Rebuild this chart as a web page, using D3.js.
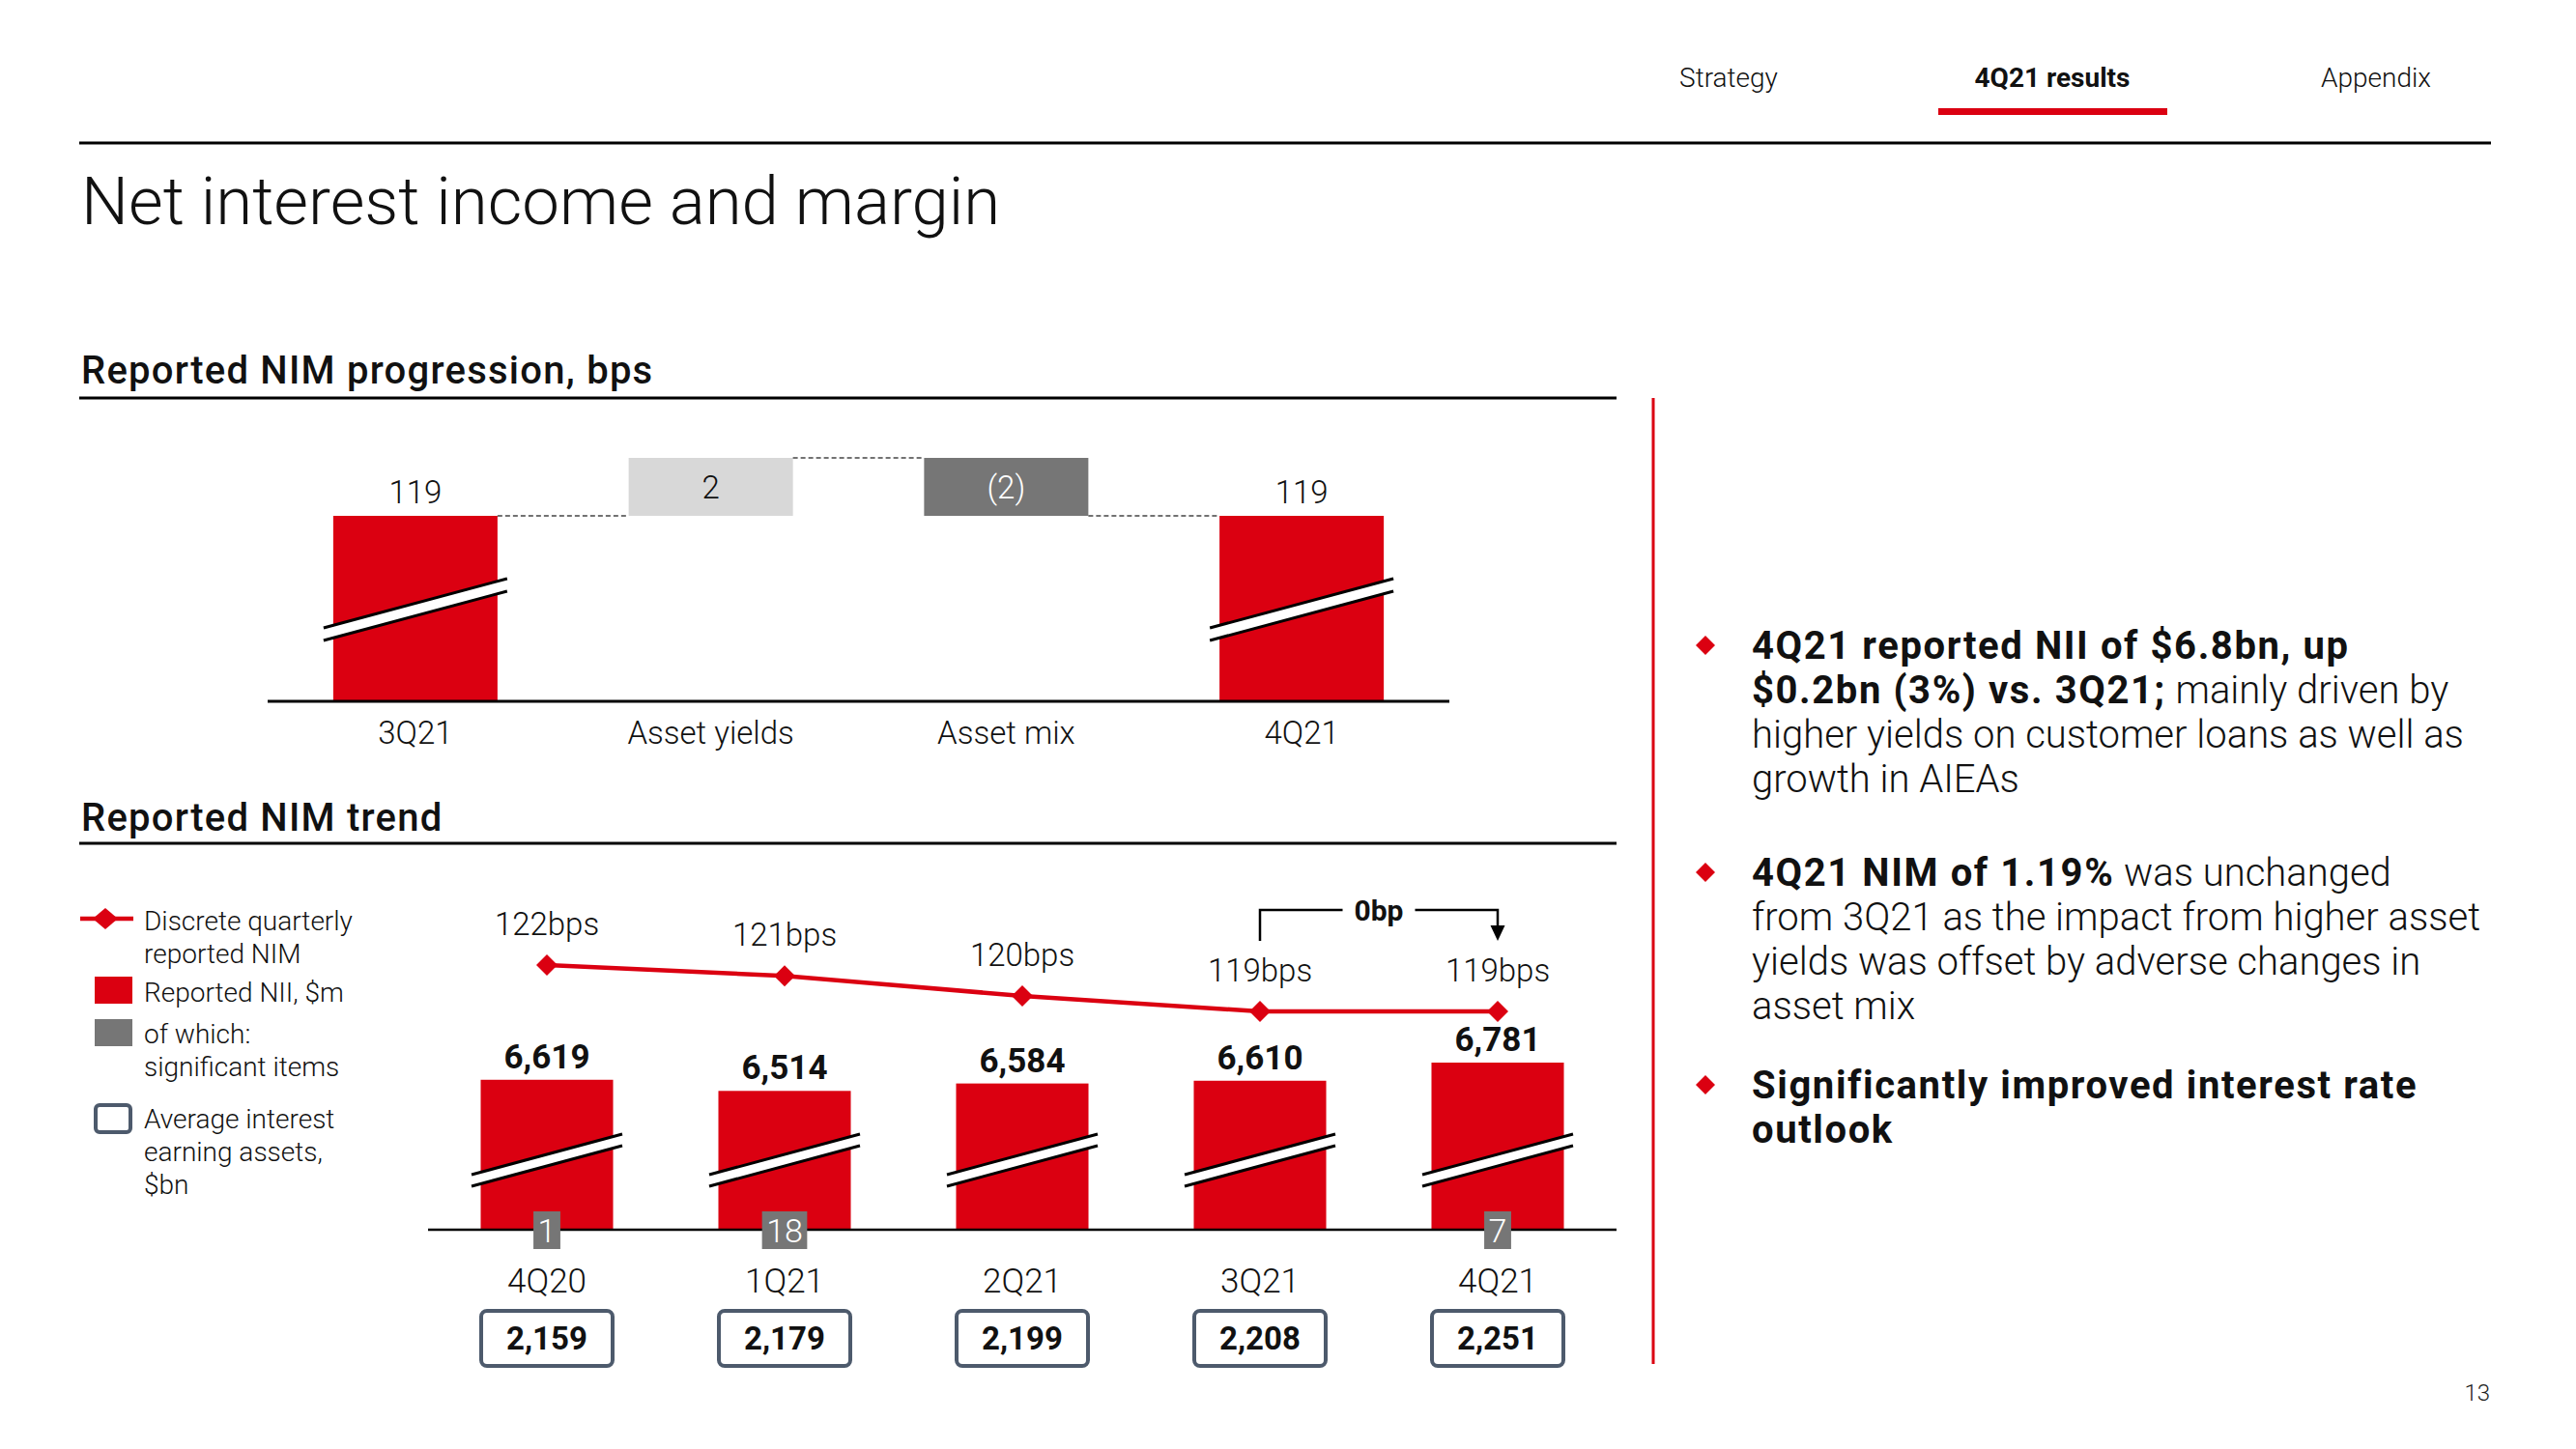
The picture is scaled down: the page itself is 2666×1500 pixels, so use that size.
<!DOCTYPE html>
<html><head><meta charset="utf-8">
<script src="https://cdn.jsdelivr.net/npm/d3@7"></script>
<style>
html,body{margin:0;padding:0;background:#fff;}
svg{display:block;font-family:Roboto,"Noto Sans",sans-serif;}
</style></head><body>
<svg id="chart" width="2666" height="1500"></svg>
<script>
const RED = "#db0011", DARKGREY = "#767676", LIGHTGREY = "#d8d8d8", BOXSTROKE = "#4d5a6c", INK = "#000";

// ---------- header ----------
const navItems = ["Strategy", "4Q21 results", "Appendix"];
const navActive = "4Q21 results";
const pageTitle = "Net interest income and margin";
const pageNumber = "13";
const section1Title = "Reported NIM progression, bps";
const section2Title = "Reported NIM trend";

// ---------- waterfall ----------
const wfCategories = ["3Q21", "Asset yields", "Asset mix", "4Q21"];
const wfValues = [119, 2, -2, 119];
const wfTypes = ["total", "delta", "delta", "total"];
const wfLabels = ["119", "2", "(2)", "119"];

// ---------- trend ----------
const quarters = ["4Q20", "1Q21", "2Q21", "3Q21", "4Q21"];
const niiValues = [6619, 6514, 6584, 6610, 6781];
const sigItems = [1, 18, null, null, 7];
const nimValues = [122, 121.3, 120, 119, 119];
const nimLabels = ["122bps", "121bps", "120bps", "119bps", "119bps"];
const aieaValues = [2159, 2179, 2199, 2208, 2251];
const nimChangeLabel = "0bp";

// ---------- legend ----------
const legendLabels = [
  ["Discrete quarterly", "reported NIM"],
  ["Reported NII, $m"],
  ["of which:", "significant items"],
  ["Average interest", "earning assets,", "$bn"]
];

// ---------- bullets ----------
const bullets = [
  [[["b", "4Q21 reported NII of $6.8bn, up"]],
   [["b", "$0.2bn (3%) vs. 3Q21;"], ["l", " mainly driven by"]],
   [["l", "higher yields on customer loans as well as"]],
   [["l", "growth in AIEAs"]]],
  [[["b", "4Q21 NIM of 1.19%"], ["l", " was unchanged"]],
   [["l", "from 3Q21 as the impact from higher asset"]],
   [["l", "yields was offset by adverse changes in"]],
   [["l", "asset mix"]]],
  [[["b", "Significantly improved interest rate"]],
   [["b", "outlook"]]]
];

const fmt = d3.format(",");
const svg = d3.select("#chart");

// ================= HEADER =================
const navX = d3.scalePoint().domain(navItems).range([1789, 2459]);
svg.append("g").selectAll("text").data(navItems).join("text")
  .attr("x", d => navX(d)).attr("y", 90)
  .attr("text-anchor", "middle")
  .attr("font-size", 28)
  .attr("font-weight", d => d === navActive ? 700 : 300)
  .attr("fill", "#111")
  .text(d => d);
svg.append("rect").attr("x", navX(navActive) - 118).attr("y", 112).attr("width", 237).attr("height", 7).attr("fill", RED);
svg.append("line").attr("x1", 82).attr("x2", 2578).attr("y1", 148).attr("y2", 148).attr("stroke", INK).attr("stroke-width", 3);
svg.append("text").attr("x", 84).attr("y", 232).attr("font-size", 69).attr("font-weight", 300).attr("fill", "#111").text(pageTitle);
svg.append("text").attr("x", 2577).attr("y", 1450).attr("text-anchor", "end").attr("font-size", 24).attr("font-weight", 300).attr("fill", "#222").text(pageNumber);

// section titles
function sectionTitle(txt, baseY, lineY) {
  svg.append("text").attr("x", 84).attr("y", baseY).attr("font-size", 40).attr("font-weight", 500)
    .attr("letter-spacing", 1.25).attr("fill", "#111").text(txt);
  svg.append("line").attr("x1", 82).attr("x2", 1673).attr("y1", lineY).attr("y2", lineY).attr("stroke", INK).attr("stroke-width", 3);
}
sectionTitle(section1Title, 397, 412);
sectionTitle(section2Title, 860, 873);

// break mark helper
function breakMark(g, cx, cy, hw, rise, gap) {
  const p = [[cx - hw, cy + rise - gap / 2], [cx + hw, cy - rise - gap / 2], [cx + hw, cy - rise + gap / 2], [cx - hw, cy + rise + gap / 2]];
  g.append("polygon").attr("points", p.map(d => d.join(",")).join(" ")).attr("fill", "#fff");
  g.append("line").attr("x1", p[0][0]).attr("y1", p[0][1]).attr("x2", p[1][0]).attr("y2", p[1][1]).attr("stroke", INK).attr("stroke-width", 3);
  g.append("line").attr("x1", p[3][0]).attr("y1", p[3][1]).attr("x2", p[2][0]).attr("y2", p[2][1]).attr("stroke", INK).attr("stroke-width", 3);
}

// ================= WATERFALL =================
const wfAxisY = 726;
const wfX = d3.scaleBand().domain(wfCategories).range([277, 1500]).paddingInner(0.444).paddingOuter(0.222);
const wfY = d3.scaleLinear().domain([119, 121]).range([534, 474]);
let running = 0;
const wfData = wfCategories.map((c, i) => {
  let d;
  if (wfTypes[i] === "total") { d = { c, type: "total", start: null, end: wfValues[i], v: wfValues[i] }; running = wfValues[i]; }
  else { d = { c, type: "delta", start: running, end: running + wfValues[i], v: wfValues[i] }; running += wfValues[i]; }
  d.label = wfLabels[i];
  return d;
});
const wf = svg.append("g");
const bw = wfX.bandwidth();
wfData.forEach((d, i) => {
  const x = wfX(d.c);
  if (d.type === "total") {
    wf.append("rect").attr("x", x).attr("y", wfY(d.end)).attr("width", bw).attr("height", wfAxisY - wfY(d.end)).attr("fill", RED);
    breakMark(wf, x + bw / 2, wfAxisY - 95, 95, 25.5, 13);
    wf.append("text").attr("x", x + bw / 2).attr("y", wfY(d.end) - 13).attr("text-anchor", "middle")
      .attr("font-size", 33).attr("font-weight", 300).attr("fill", "#111").text(d.label);
  } else {
    const top = wfY(Math.max(d.start, d.end)), bot = wfY(Math.min(d.start, d.end));
    wf.append("rect").attr("x", x).attr("y", top).attr("width", bw).attr("height", bot - top)
      .attr("fill", d.v >= 0 ? LIGHTGREY : DARKGREY);
    wf.append("text").attr("x", x + bw / 2).attr("y", (top + bot) / 2 + 12).attr("text-anchor", "middle")
      .attr("font-size", 33).attr("font-weight", 300).attr("fill", d.v >= 0 ? "#111" : "#fff").text(d.label);
  }
  if (i < wfData.length - 1) {
    const lvl = d.end;
    wf.append("line").attr("x1", x + bw).attr("x2", wfX(wfData[i + 1].c)).attr("y1", wfY(lvl)).attr("y2", wfY(lvl))
      .attr("stroke", "#444").attr("stroke-width", 1.5).attr("stroke-dasharray", "5,3");
  }
  wf.append("text").attr("x", x + bw / 2).attr("y", 770).attr("text-anchor", "middle")
    .attr("font-size", 33).attr("font-weight", 300).attr("fill", "#111").text(d.c);
});
wf.append("line").attr("x1", 277).attr("x2", 1500).attr("y1", wfAxisY).attr("y2", wfAxisY).attr("stroke", INK).attr("stroke-width", 3);

// ================= TREND =================
const tAxisY = 1273;
const tX = d3.scaleBand().domain(quarters).range([443, 1673]).paddingInner(0.443).paddingOuter(0.2215);
const tY = d3.scaleLinear().domain([6514, 6781]).range([1129.3, 1100]);
const nimY = d3.scaleLinear().domain([119, 122]).range([1047, 999]);
const tbw = tX.bandwidth();
const tr = svg.append("g");
const cx = q => tX(q) + tbw / 2;

quarters.forEach((q, i) => {
  const x = tX(q);
  tr.append("rect").attr("x", x).attr("y", tY(niiValues[i])).attr("width", tbw).attr("height", tAxisY - tY(niiValues[i])).attr("fill", RED);
  breakMark(tr, cx(q), tAxisY - 72, 78, 21, 12);
  tr.append("text").attr("x", cx(q)).attr("y", tY(niiValues[i]) - 12).attr("text-anchor", "middle")
    .attr("font-size", 35).attr("font-weight", 700).attr("fill", "#111").text(fmt(niiValues[i]));
});
tr.append("line").attr("x1", 443).attr("x2", 1673).attr("y1", tAxisY).attr("y2", tAxisY).attr("stroke", INK).attr("stroke-width", 2.5);

// significant items boxes
quarters.forEach((q, i) => {
  if (sigItems[i] == null) return;
  const g = tr.append("g");
  const t = g.append("text").attr("x", cx(q)).attr("y", 1286).attr("text-anchor", "middle")
    .attr("font-size", 34).attr("font-weight", 300).attr("fill", "#fff").text(sigItems[i]);
  const w = t.node().getComputedTextLength() + 9;
  g.insert("rect", "text").attr("x", cx(q) - w / 2).attr("y", 1254).attr("width", w).attr("height", 39).attr("fill", DARKGREY);
});

// quarter labels
tr.selectAll("text.q").data(quarters).join("text").attr("class", "q")
  .attr("x", d => cx(d)).attr("y", 1338).attr("text-anchor", "middle")
  .attr("font-size", 35).attr("font-weight", 300).attr("fill", "#111").text(d => d);

// AIEA boxes
quarters.forEach((q, i) => {
  tr.append("rect").attr("x", cx(q) - 68).attr("y", 1357).attr("width", 136).attr("height", 57).attr("rx", 6)
    .attr("fill", "#fff").attr("stroke", BOXSTROKE).attr("stroke-width", 4);
  tr.append("text").attr("x", cx(q)).attr("y", 1397).attr("text-anchor", "middle")
    .attr("font-size", 33).attr("font-weight", 700).attr("fill", "#111").text(fmt(aieaValues[i]));
});

// NIM line
const line = d3.line().x((d, i) => cx(quarters[i])).y(d => nimY(d));
tr.append("path").datum(nimValues).attr("d", line).attr("fill", "none").attr("stroke", RED).attr("stroke-width", 4.5);
const diamond = (x, y, hw, hh) => `M${x},${y - hh}L${x + hw},${y}L${x},${y + hh}L${x - hw},${y}Z`;
nimValues.forEach((v, i) => {
  tr.append("path").attr("d", diamond(cx(quarters[i]), nimY(v), 11, 11)).attr("fill", RED);
  tr.append("text").attr("x", cx(quarters[i])).attr("y", nimY(v) - 31).attr("text-anchor", "middle")
    .attr("font-size", 33).attr("font-weight", 300).attr("fill", "#111").text(nimLabels[i]);
});

// 0bp bracket
{
  const x1 = cx(quarters[3]), x2 = cx(quarters[4]);
  const yTop = 942, yBot = 974, mid = (x1 + x2) / 2;
  const g = tr.append("g");
  const t = g.append("text").attr("x", mid).attr("y", 953).attr("text-anchor", "middle")
    .attr("font-size", 30).attr("font-weight", 700).attr("fill", "#111").text(nimChangeLabel);
  const tw = t.node().getComputedTextLength();
  g.append("path").attr("d", `M${x1},${yBot}V${yTop}H${mid - tw / 2 - 12}`).attr("fill", "none").attr("stroke", INK).attr("stroke-width", 2.5);
  g.append("path").attr("d", `M${mid + tw / 2 + 12},${yTop}H${x2}V${yBot - 14}`).attr("fill", "none").attr("stroke", INK).attr("stroke-width", 2.5);
  g.append("path").attr("d", `M${x2 - 7.5},${yBot - 16}L${x2 + 7.5},${yBot - 16}L${x2},${yBot}Z`).attr("fill", INK);
}

// ================= LEGEND =================
const lg = svg.append("g");
lg.append("line").attr("x1", 83).attr("x2", 138).attr("y1", 951).attr("y2", 951).attr("stroke", RED).attr("stroke-width", 4.5);
lg.append("path").attr("d", diamond(109, 951, 13, 11)).attr("fill", RED);
lg.append("rect").attr("x", 98).attr("y", 1011).attr("width", 39).attr("height", 28).attr("fill", RED);
lg.append("rect").attr("x", 98).attr("y", 1055).attr("width", 39).attr("height", 28).attr("fill", DARKGREY);
lg.append("rect").attr("x", 99).attr("y", 1144).attr("width", 36).attr("height", 28).attr("rx", 4).attr("fill", "#fff").attr("stroke", BOXSTROKE).attr("stroke-width", 4);
const legendBase = [963, 1037, 1080, 1168];
legendLabels.forEach((lines, i) => {
  const t = lg.append("text").attr("x", 149).attr("y", legendBase[i]).attr("font-size", 28).attr("font-weight", 300).attr("fill", "#111");
  lines.forEach((ln, j) => t.append("tspan").attr("x", 149).attr("dy", j === 0 ? 0 : 34).text(ln));
});

// ================= RIGHT PANEL =================
svg.append("line").attr("x1", 1711).attr("x2", 1711).attr("y1", 412).attr("y2", 1412).attr("stroke", RED).attr("stroke-width", 3);
const bulletTop = [682, 917, 1137];
const bg = svg.append("g");
bullets.forEach((lines, i) => {
  bg.append("path").attr("d", diamond(1765, bulletTop[i] - 14, 10, 10)).attr("fill", RED);
  lines.forEach((segs, j) => {
    const t = bg.append("text").attr("x", 1813).attr("y", bulletTop[i] + j * 46).attr("font-size", 40).attr("fill", "#111");
    segs.forEach(([w, s]) => t.append("tspan").attr("font-weight", w === "b" ? 700 : 300)
      .attr("letter-spacing", w === "b" ? 1.6 : 0).text(s));
  });
});
</script>
</body></html>
